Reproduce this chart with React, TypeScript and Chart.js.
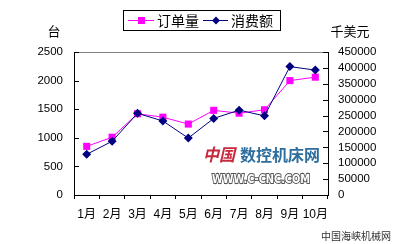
import React, { useEffect, useRef } from 'react';
import { Chart, registerables } from 'chart.js';

Chart.register(...registerables);

const months = ['1月', '2月', '3月', '4月', '5月', '6月', '7月', '8月', '9月', '10月'];
const orders = [850, 1010, 1420, 1360, 1240, 1480, 1430, 1490, 2000, 2060];
const spending = [128000, 169000, 257000, 233000, 179000, 241000, 267000, 249000, 404000, 393000];
const seriesNames = ['订单量', '消费额'];
const leftMax = 2500;
const leftStep = 500;
const rightMax = 450000;
const rightStep = 50000;
const leftUnit = '台';
const rightUnit = '千美元';
const watermarkRed = '中国';
const watermarkBlue = '数控机床网';
const watermarkUrl = 'WWW.C-CNC.COM';
const footer = '中国海峡机械网';

const MAGENTA = '#FF00FF';
const NAVY = '#000080';
const NUM_FONT = "'Liberation Sans', 'Noto Sans CJK SC', sans-serif";
const CJK_FONT = "'Noto Sans CJK SC', sans-serif";

const decor = {
  id: 'decor',
  beforeDatasetsDraw(chart: any) {
    const ctx = chart.ctx;
    ctx.save();
    ctx.textBaseline = 'middle';
    ctx.textAlign = 'left';
    ctx.font = "italic bold 17px 'Noto Sans CJK SC', sans-serif";
    ctx.fillStyle = '#C8283C';
    ctx.fillText(watermarkRed, 203, 155, 32);
    ctx.font = "bold 16px 'Noto Sans CJK SC', sans-serif";
    ctx.fillStyle = '#2E6E9C';
    ctx.fillText(watermarkBlue, 240, 155, 80);
    ctx.font = "bold 12px 'DejaVu Sans', sans-serif";
    ctx.lineWidth = 2;
    ctx.strokeStyle = '#555';
    ctx.strokeText(watermarkUrl, 212, 180, 98);
    ctx.fillStyle = '#fff';
    ctx.fillText(watermarkUrl, 212, 180, 98);
    ctx.restore();
  },
  afterDraw(chart: any) {
    const ctx = chart.ctx;
    const a = chart.chartArea;
    const y = chart.scales.y;
    const y1 = chart.scales.y1;
    ctx.save();
    ctx.strokeStyle = '#808080';
    ctx.lineWidth = 1;
    ctx.beginPath();
    ctx.moveTo(a.left, Math.round(a.top) + 0.5);
    ctx.lineTo(a.right, Math.round(a.top) + 0.5);
    ctx.stroke();
    ctx.strokeStyle = '#000';
    ctx.beginPath();
    for (let v = 0; v <= leftMax; v += leftStep) {
      const py = Math.round(y.getPixelForValue(v)) + 0.5;
      ctx.moveTo(a.left, py);
      ctx.lineTo(a.left + 5, py);
    }
    for (let v = 0; v <= rightMax; v += rightStep) {
      const py = Math.round(y1.getPixelForValue(v)) + 0.5;
      ctx.moveTo(a.right, py);
      ctx.lineTo(a.right - 5, py);
    }
    ctx.stroke();
    ctx.fillStyle = '#000';
    ctx.textBaseline = 'middle';
    ctx.textAlign = 'center';
    ctx.font = `13px ${CJK_FONT}`;
    ctx.fillText(leftUnit, 54, 31);
    ctx.fillText(rightUnit, 350, 31);
    ctx.strokeStyle = '#000';
    ctx.strokeRect(123.5, 10.5, 157, 20);
    const ly = 20.5;
    ctx.lineWidth = 1;
    ctx.strokeStyle = MAGENTA;
    ctx.beginPath();
    ctx.moveTo(128, ly);
    ctx.lineTo(154, ly);
    ctx.stroke();
    ctx.fillStyle = MAGENTA;
    ctx.fillRect(138, ly - 3.5, 7, 7);
    ctx.strokeStyle = NAVY;
    ctx.beginPath();
    ctx.moveTo(203, ly);
    ctx.lineTo(228, ly);
    ctx.stroke();
    ctx.fillStyle = NAVY;
    ctx.beginPath();
    ctx.moveTo(216, ly - 4);
    ctx.lineTo(220, ly);
    ctx.lineTo(216, ly + 4);
    ctx.lineTo(212, ly);
    ctx.closePath();
    ctx.fill();
    ctx.fillStyle = '#000';
    ctx.textAlign = 'left';
    ctx.font = `14px ${CJK_FONT}`;
    ctx.fillText(seriesNames[0], 157, ly + 0.5);
    ctx.fillText(seriesNames[1], 231, ly + 0.5);
    ctx.font = `10px ${CJK_FONT}`;
    ctx.fillStyle = '#333';
    ctx.textAlign = 'center';
    ctx.fillText(footer, 356, 236);
    ctx.restore();
  },
};

export default function App() {
  const ref = useRef<HTMLCanvasElement>(null);
  useEffect(() => {
    document.body.style.margin = '0';
    const chart = new Chart(ref.current as HTMLCanvasElement, {
      type: 'line',
      data: {
        labels: months,
        datasets: [
          {
            label: seriesNames[0],
            data: orders,
            yAxisID: 'y',
            borderColor: MAGENTA,
            backgroundColor: MAGENTA,
            borderWidth: 1,
            pointStyle: 'rect',
            pointRadius: 5,
            pointBorderWidth: 0,
            tension: 0,
            order: 1,
          },
          {
            label: seriesNames[1],
            data: spending,
            yAxisID: 'y1',
            borderColor: NAVY,
            backgroundColor: NAVY,
            borderWidth: 1,
            pointStyle: 'rectRot',
            pointRadius: 4.5,
            pointBorderWidth: 0,
            tension: 0,
            order: 0,
          },
        ],
      },
      options: {
        responsive: false,
        animation: false,
        layout: { padding: { top: 52, left: 0, right: 0, bottom: 0 } },
        plugins: { legend: { display: false }, tooltip: { enabled: false } },
        scales: {
          x: {
            offset: true,
            grid: {
              offset: true,
              drawOnChartArea: false,
              drawTicks: true,
              tickLength: 4,
              color: '#000',
            },
            border: { display: true, color: '#000', width: 1 },
            ticks: { color: '#000', padding: 8, maxRotation: 0, autoSkip: false, font: { family: NUM_FONT, size: 12 } },
            afterFit: (s: any) => { s.height = 49; },
          },
          y: {
            position: 'left',
            min: 0,
            max: leftMax,
            grid: { display: false, drawTicks: false },
            border: { display: true, color: '#000', width: 1 },
            ticks: {
              stepSize: leftStep,
              autoSkip: false,
              color: '#000',
              padding: 11,
              font: { family: NUM_FONT, size: 11.5 },
              callback: (v: any) => String(v),
            },
            afterFit: (s: any) => { s.width = 74; },
          },
          y1: {
            position: 'right',
            min: 0,
            max: rightMax,
            grid: { display: false, drawTicks: false },
            border: { display: true, color: '#000', width: 1 },
            ticks: {
              stepSize: rightStep,
              autoSkip: false,
              color: '#000',
              padding: 10,
              font: { family: NUM_FONT, size: 11.5 },
              callback: (v: any) => String(v),
            },
            afterFit: (s: any) => { s.width = 86; },
          },
        },
      },
      plugins: [decor],
    });
    return () => chart.destroy();
  }, []);
  return (
    <div style={{ position: 'absolute', left: 0, top: 0, width: 414, height: 244, background: '#fff' }}>
      <canvas ref={ref} width={414} height={244} style={{ display: 'block' }} />
    </div>
  );
}
